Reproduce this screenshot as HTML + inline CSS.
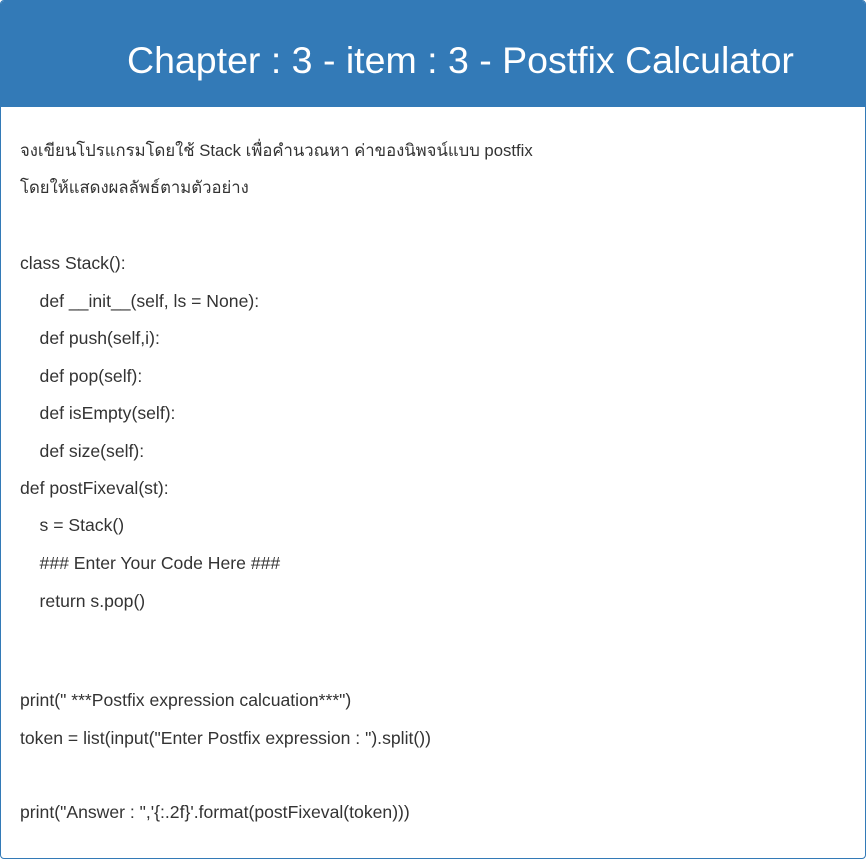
<!DOCTYPE html>
<html><head><meta charset="utf-8"><style>
body{margin:0;background:#fff;width:866px;height:860px;overflow:hidden;font-family:"Liberation Sans",Arial,sans-serif}
.panel{position:absolute;left:0;top:0;width:864px;height:857px;border:1px solid #337ab7;border-radius:4px;overflow:hidden}
.hd{position:absolute;left:0;top:0;width:864px;height:106px;background:#337ab7;color:#fff}
.hd h1{margin:0;position:absolute;left:126px;top:37px;font-size:37.5px;font-weight:normal;line-height:44px;white-space:nowrap}
.ln{position:absolute;left:19px;font-size:17.6px;color:#333;white-space:pre;line-height:20px}
</style></head><body>
<div class="panel">
<div class="hd"><h1>Chapter : 3 - item : 3 - Postfix Calculator</h1></div>
<div class="ln" style="top:140px;font-size:16.7px">จงเขียนโปรแกรมโดยใช้ Stack เพื่อคำนวณหา ค่าของนิพจน์แบบ postfix</div>
<div class="ln" style="top:177px;font-size:16.7px">โดยให้แสดงผลลัพธ์ตามตัวอย่าง</div>
<div class="ln" style="top:252px">class Stack():</div>
<div class="ln" style="top:290px">    def __init__(self, ls = None):</div>
<div class="ln" style="top:327px">    def push(self,i):</div>
<div class="ln" style="top:365px">    def pop(self):</div>
<div class="ln" style="top:402px">    def isEmpty(self):</div>
<div class="ln" style="top:440px">    def size(self):</div>
<div class="ln" style="top:477px">def postFixeval(st):</div>
<div class="ln" style="top:514px">    s = Stack()</div>
<div class="ln" style="top:552px">    ### Enter Your Code Here ###</div>
<div class="ln" style="top:590px">    return s.pop()</div>
<div class="ln" style="top:689px">print(" ***Postfix expression calcuation***")</div>
<div class="ln" style="top:727px">token = list(input("Enter Postfix expression : ").split())</div>
<div class="ln" style="top:801px">print("Answer : ",'{:.2f}'.format(postFixeval(token)))</div>
</div>
</body></html>
